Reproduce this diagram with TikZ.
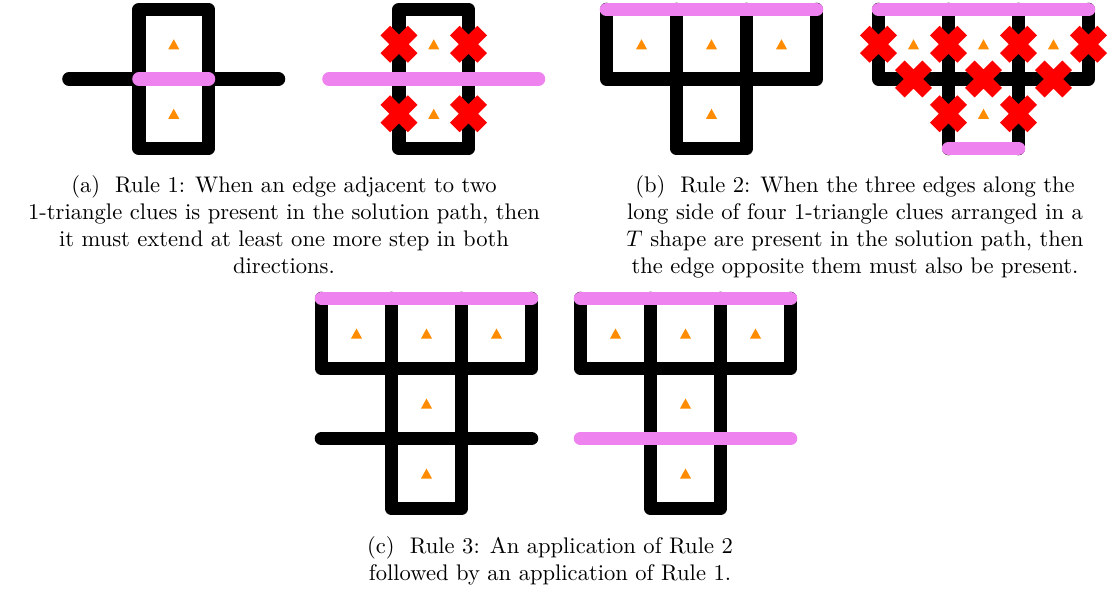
\documentclass[tikz,border=0pt]{standalone}
\definecolor{pathpink}{RGB}{238,130,238}
\definecolor{cluecol}{RGB}{255,140,0}
\tikzset{
  gridedge/.style={line width=6pt, line cap=round, line join=round, draw=black},
  pathedge/.style={line width=6pt, line cap=round, line join=round, draw=pathpink},
  xmark/.style={line width=6pt, line cap=butt, draw=red},
  captxt/.style={anchor=north, align=center, inner sep=0pt, font=\normalsize},
  clue/.pic={\fill[cluecol] (-5.5,5) -- (5.5,5) -- (0,-5) -- cycle;},
  cross/.pic={\draw[xmark] (-13.7,-13.7) -- (13.7,13.7) (-13.7,13.7) -- (13.7,-13.7);}
}
\begin{document}
\begin{tikzpicture}[x=0.443pt, y=-0.443pt]
\useasboundingbox (0,0) rectangle (1109,589);

% ---------- (a) left
\draw[gridedge] (139,9.5) rectangle (208.5,148.5);
\draw[gridedge] (69,79) -- (278.5,79);
\draw[pathedge] (139,79) -- (208.5,79);
\pic at (173.75,44.25) {clue};
\pic at (173.75,113.75) {clue};

% ---------- (a) right
\draw[gridedge] (399,9.5) rectangle (468.5,148.5);
\draw[pathedge] (329,79) -- (538.5,79);
\pic at (433.75,44.25) {clue};
\pic at (433.75,113.75) {clue};
\pic at (399,44.25) {cross};
\pic at (468.5,44.25) {cross};
\pic at (399,113.75) {cross};
\pic at (468.5,113.75) {cross};

% ---------- (b) left
\draw[gridedge] (606.5,9.5) -- (606.5,79) -- (676.5,79) -- (676.5,148.5) -- (746.5,148.5) -- (746.5,79) -- (816.5,79) -- (816.5,9.5);
\draw[gridedge] (676.5,9.5) -- (676.5,79) (746.5,9.5) -- (746.5,79) (676.5,79) -- (746.5,79);
\draw[pathedge] (606.5,9.5) -- (816.5,9.5);
\pic at (641.5,44.25) {clue};
\pic at (711.5,44.25) {clue};
\pic at (781.5,44.25) {clue};
\pic at (711.5,113.75) {clue};

% ---------- (b) right
\draw[gridedge] (878.5,9.5) -- (878.5,79) -- (1088.5,79) -- (1088.5,9.5);
\draw[gridedge] (948.5,9.5) -- (948.5,148.5) (1018.5,9.5) -- (1018.5,148.5);
\draw[pathedge] (878.5,9.5) -- (1088.5,9.5);
\draw[pathedge] (948.5,148.5) -- (1018.5,148.5);
\pic at (913.5,44.25) {clue};
\pic at (983.5,44.25) {clue};
\pic at (1053.5,44.25) {clue};
\pic at (983.5,113.75) {clue};
\pic at (878.5,44.25) {cross};
\pic at (948.5,44.25) {cross};
\pic at (1018.5,44.25) {cross};
\pic at (1088.5,44.25) {cross};
\pic at (913.5,79) {cross};
\pic at (983.5,79) {cross};
\pic at (1053.5,79) {cross};
\pic at (948.5,113.75) {cross};
\pic at (1018.5,113.75) {cross};

% ---------- (c) left
\draw[gridedge] (321.5,298.5) -- (321.5,368.5) -- (531.5,368.5) -- (531.5,298.5);
\draw[gridedge] (391.5,298.5) -- (391.5,508.5) -- (461.5,508.5) -- (461.5,298.5);
\draw[gridedge] (321.5,438.5) -- (531.5,438.5);
\draw[pathedge] (321.5,298.5) -- (531.5,298.5);
\pic at (356.5,333.5) {clue};
\pic at (426.5,333.5) {clue};
\pic at (496.5,333.5) {clue};
\pic at (426.5,403.5) {clue};
\pic at (426.5,473.5) {clue};

% ---------- (c) right
\draw[gridedge] (580.5,298.5) -- (580.5,368.5) -- (790.5,368.5) -- (790.5,298.5);
\draw[gridedge] (650.5,298.5) -- (650.5,508.5) -- (720.5,508.5) -- (720.5,298.5);
\draw[pathedge] (580.5,298.5) -- (790.5,298.5);
\draw[pathedge] (580.5,438.5) -- (790.5,438.5);
\pic at (615.5,333.5) {clue};
\pic at (685.5,333.5) {clue};
\pic at (755.5,333.5) {clue};
\pic at (685.5,403.5) {clue};
\pic at (685.5,473.5) {clue};

% ---------- captions
\node[captxt] (capa) at (284,175) {(a)\hspace{6.7pt}Rule 1: When an edge adjacent to two\\
1-triangle clues is present in the solution path, then\\
it must extend at least one more step in both\\
directions.};
\node[captxt] (capb) at (855,175) {(b)\hspace{6.7pt}Rule 2: When the three edges along the\\
long side of four 1-triangle clues arranged in a\\
$T$ shape are present in the solution path, then\\
the edge opposite them must also be present.};
\node[captxt] (capc) at (550,536) {(c)\hspace{6.7pt}Rule 3: An application of Rule 2\\
followed by an application of Rule 1.};
\end{tikzpicture}
\end{document}
